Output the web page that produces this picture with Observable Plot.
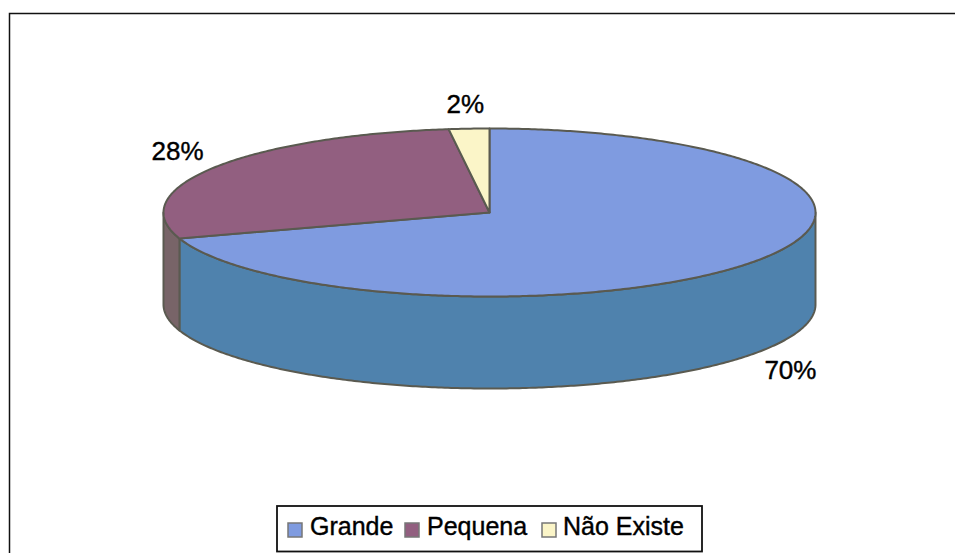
<!DOCTYPE html>
<html><head><meta charset="utf-8">
<style>html,body{margin:0;padding:0;background:#fff;overflow:hidden}svg{display:block}</style>
<script src="https://cdn.jsdelivr.net/npm/d3@7"></script>
<script src="https://cdn.jsdelivr.net/npm/@observablehq/plot@0.6"></script>
</head><body><div id="c"></div>
<script>
const categories = ["Grande", "Pequena", "Não Existe"];
const values = [70, 28, 2];
const topColors = ["#7f9be0", "#925f80", "#fbf5c8"];
const sideColors = ["#4f82ad", "#786468", "#c9c49f"];
const labelText = ["70%", "28%", "2%"];
// label anchor positions in chart units (pie radius = 1 on each axis)
const labelX = [0.923, -0.957, -0.074];
const labelY = [-1.881, 0.726, 1.286];

const W = 955, H = 553;
const cx = 489, cy = 212, rx = 326, ry = 84, depth = 92;
const total = d3.sum(values);
const ang = []; let acc = 0;
values.forEach((v, i) => { const a0 = acc / total * 2 * Math.PI; acc += v; ang.push([a0, acc / total * 2 * Math.PI]); });
const px = a => Math.sin(a), py = a => Math.cos(a);
const drop = depth / ry;

function arc(a0, a1, off = 0) {
  const n = Math.max(2, Math.ceil((a1 - a0) / 0.01));
  return d3.range(n + 1).map(k => { const a = a0 + (a1 - a0) * k / n; return {x: px(a), y: py(a) - off}; });
}
const tops = [], sides = [];
categories.forEach((c, i) => {
  const [a0, a1] = ang[i];
  [{x: 0, y: 0}, ...arc(a0, a1), {x: 0, y: 0}].forEach(p => tops.push({...p, c, color: topColors[i]}));
  // visible part of the outer wall: the lower half of the ellipse (PI/2 .. 3PI/2)
  const s0 = Math.max(a0, Math.PI / 2), s1 = Math.min(a1, 3 * Math.PI / 2);
  if (s1 > s0) {
    const up = arc(s0, s1), low = arc(s0, s1, drop).reverse();
    [...up, ...low, up[0]].forEach(p => sides.push({...p, c, color: sideColors[i]}));
  }
});
const labels = labelText.map((t, i) => ({t, x: labelX[i], y: labelY[i]}));

const xDom = [(0 - cx) / rx, (W - cx) / rx];
const yDom = [(cy - H) / ry, cy / ry];
const edge = "#5a5a50";

const plot = Plot.plot({
  width: W, height: H, margin: 0,
  x: {domain: xDom, range: [0, W], axis: null},
  y: {domain: yDom, range: [H, 0], axis: null},
  style: {background: "#fff"},
  marks: [
    Plot.line(sides, {x: "x", y: "y", z: "c", fill: "color", stroke: edge, strokeWidth: 2, curve: "linear"}),
    Plot.line(tops, {x: "x", y: "y", z: "c", fill: "color", stroke: edge, strokeWidth: 2, curve: "linear"}),
    Plot.text(labels, {x: "x", y: "y", text: "t", fill: "#000", stroke: "#000", strokeWidth: 0.4, fontSize: 26, fontFamily: "Liberation Sans", textAnchor: "middle"})
  ]
});
const svg = d3.select(plot);

// frame and legend drawn over the plot; the frame runs past the right and bottom edges of the picture
svg.append("rect").attr("x", 9.5).attr("y", 13.5).attr("width", 1000).attr("height", 600).attr("fill", "none").attr("stroke", "#111").attr("stroke-width", 1.5);
const lg = svg.append("g").attr("text-anchor", "start");
lg.append("rect").attr("x", 277).attr("y", 506).attr("width", 425).attr("height", 45.5).attr("fill", "#fff").attr("stroke", "#111").attr("stroke-width", 1.8);
const sw = [288, 405, 542], tx = [310, 427, 563];
categories.forEach((c, i) => {
  lg.append("rect").attr("x", sw[i]).attr("y", 523).attr("width", 14).attr("height", 14).attr("fill", topColors[i]).attr("stroke", "#777").attr("stroke-width", 1.5);
  lg.append("text").attr("x", tx[i]).attr("y", 535).attr("font-size", 25).attr("font-family", "Liberation Sans").attr("fill", "#000").attr("stroke", "#000").attr("stroke-width", 0.4).text(c);
});
document.getElementById("c").append(plot);
</script></body></html>
